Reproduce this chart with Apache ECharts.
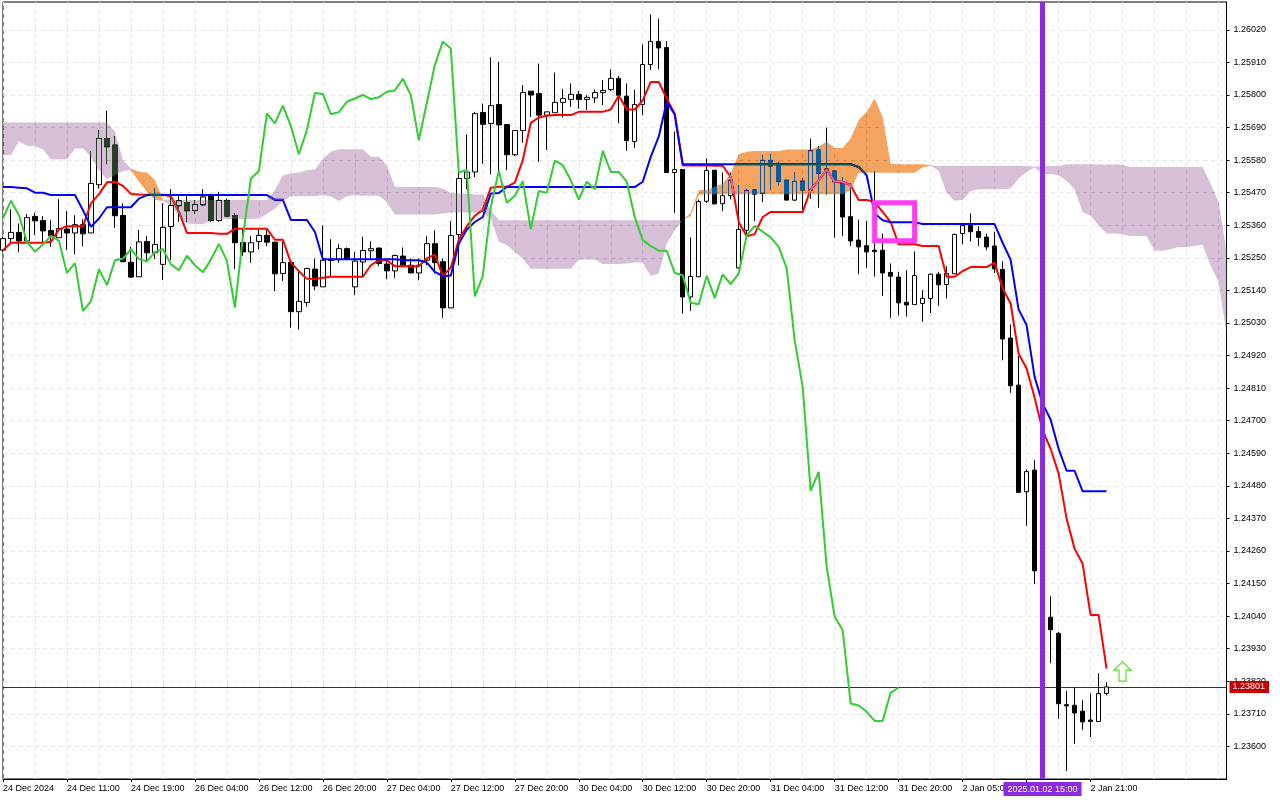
<!DOCTYPE html>
<html>
<head>
<meta charset="utf-8">
<style>html,body{margin:0;padding:0;background:#fff}#c{width:1280px;height:800px}</style>
<script src="https://cdn.jsdelivr.net/npm/echarts@6/dist/echarts.min.js"></script>
</head>
<body>
<div id="c"></div>
<script>
const opens=[1.25276,1.25315,1.25336,1.25307,1.25390,1.25376,1.25342,1.25318,1.25347,1.25334,
1.25362,1.25334,1.25497,1.25653,1.25631,1.25393,1.25235,1.25186,1.25305,1.25267,
1.25228,1.25356,1.25426,1.25437,1.25410,1.25429,1.25458,1.25376,1.25444,1.25393,
1.25302,1.25270,1.25305,1.25326,1.25303,1.25197,1.25234,1.25068,1.25099,1.25212,
1.25152,1.25243,1.25244,1.25281,1.25152,1.25236,1.25274,1.25283,1.25229,1.25206,
1.25256,1.25225,1.25199,1.25242,1.25298,1.25237,1.25081,1.25329,1.25518,1.25540,
1.25741,1.25704,1.25768,1.25700,1.25598,1.25680,1.25813,1.25805,1.25732,1.25740,
1.25775,1.25785,1.25802,1.25785,1.25790,1.25808,1.25818,1.25856,1.25796,1.25643,
1.25768,1.25903,1.25981,1.25960,1.25538,1.25548,1.25118,1.25186,1.25441,1.25546,
1.25433,1.25460,1.25216,1.25343,1.25479,1.25468,1.25579,1.25569,1.25512,1.25445,
1.25509,1.25479,1.25614,1.25550,1.25543,1.25501,1.25389,1.25310,1.25291,1.25276,
1.25276,1.25201,1.25185,1.25100,1.25092,1.25096,1.25113,1.25195,1.25160,1.25196,
1.25332,1.25360,1.25339,1.25320,1.25290,1.25211,1.24979,1.24820,1.24460,1.24533,
1.24193,1.24036,1.23982,1.23741,1.23739,1.23719,1.23689,1.23684,1.23779];
const closes=[1.25315,1.25336,1.25307,1.25386,1.25375,1.25341,1.25324,1.25349,1.25334,1.25362,
1.25331,1.25501,1.25653,1.25625,1.25392,1.25237,1.25185,1.25304,1.25267,1.25295,
1.25353,1.25427,1.25443,1.25409,1.25430,1.25456,1.25376,1.25444,1.25391,1.25301,
1.25270,1.25301,1.25326,1.25303,1.25196,1.25234,1.25068,1.25103,1.25214,1.25155,
1.25242,1.25241,1.25281,1.25248,1.25239,1.25275,1.25281,1.25231,1.25206,1.25258,
1.25225,1.25199,1.25225,1.25298,1.25234,1.25081,1.25325,1.25518,1.25540,1.25737,
1.25701,1.25764,1.25699,1.25598,1.25680,1.25808,1.25800,1.25732,1.25743,1.25775,
1.25788,1.25802,1.25785,1.25792,1.25808,1.25815,1.25856,1.25799,1.25646,1.25768,
1.25903,1.25981,1.25959,1.25538,1.25548,1.25118,1.25187,1.25440,1.25545,1.25432,
1.25460,1.25512,1.25346,1.25477,1.25465,1.25579,1.25560,1.25509,1.25445,1.25508,
1.25479,1.25612,1.25536,1.25547,1.25507,1.25388,1.25307,1.25287,1.25270,1.25271,
1.25199,1.25188,1.25098,1.25091,1.25190,1.25113,1.25195,1.25159,1.25197,1.25329,
1.25359,1.25338,1.25319,1.25287,1.25213,1.24976,1.24818,1.24458,1.24528,1.24193,
1.24036,1.23994,1.23744,1.23737,1.23713,1.23683,1.23684,1.23779,1.23801];
const lows=[1.25270,1.25298,1.25270,1.25304,1.25327,1.25304,1.25287,1.25318,1.25276,1.25262,
1.25289,1.25334,1.25484,1.25566,1.25351,1.25237,1.25182,1.25186,1.25242,1.25246,
1.25175,1.25242,1.25372,1.25372,1.25398,1.25426,1.25372,1.25372,1.25389,1.25212,
1.25257,1.25233,1.25279,1.25289,1.25137,1.25172,1.25014,1.25008,1.25085,1.25141,
1.25152,1.25186,1.25233,1.25248,1.25124,1.25186,1.25242,1.25222,1.25178,1.25182,
1.25225,1.25199,1.25174,1.25225,1.25197,1.25047,1.25081,1.25225,1.25482,1.25523,
1.25568,1.25532,1.25535,1.25546,1.25594,1.25638,1.25726,1.25574,1.25614,1.25740,
1.25724,1.25760,1.25754,1.25749,1.25773,1.25766,1.25813,1.25704,1.25611,1.25621,
1.25732,1.25884,1.25887,1.25538,1.25402,1.25062,1.25071,1.25186,1.25436,1.25432,
1.25408,1.25447,1.25214,1.25310,1.25374,1.25438,1.25479,1.25495,1.25445,1.25442,
1.25413,1.25449,1.25419,1.25464,1.25318,1.25323,1.25290,1.25195,1.25216,1.25186,
1.25122,1.25047,1.25056,1.25051,1.25092,1.25034,1.25064,1.25088,1.25113,1.25196,
1.25296,1.25306,1.25290,1.25276,1.25199,1.24904,1.24794,1.24456,1.24345,1.24148,
1.24020,1.23881,1.23693,1.23517,1.23609,1.23656,1.23632,1.23684,1.23772];
const highs=[1.25321,1.25414,1.25366,1.25398,1.25402,1.25391,1.25377,1.25448,1.25408,1.25394,
1.25380,1.25610,1.25681,1.25746,1.25661,1.25434,1.25287,1.25344,1.25324,1.25484,
1.25434,1.25482,1.25458,1.25458,1.25445,1.25482,1.25467,1.25473,1.25450,1.25400,
1.25349,1.25324,1.25349,1.25349,1.25304,1.25304,1.25234,1.25203,1.25217,1.25248,
1.25360,1.25313,1.25296,1.25285,1.25270,1.25321,1.25306,1.25285,1.25248,1.25261,
1.25285,1.25248,1.25248,1.25323,1.25343,1.25248,1.25374,1.25580,1.25667,1.25743,
1.25771,1.25927,1.25912,1.25700,1.25680,1.25833,1.25813,1.25906,1.25743,1.25876,
1.25820,1.25839,1.25813,1.25799,1.25818,1.25850,1.25886,1.25864,1.25839,1.25818,
1.25970,1.26072,1.26058,1.25982,1.25676,1.25548,1.25319,1.25447,1.25585,1.25546,
1.25538,1.25538,1.25495,1.25481,1.25481,1.25597,1.25600,1.25573,1.25512,1.25538,
1.25518,1.25653,1.25627,1.25690,1.25546,1.25521,1.25501,1.25379,1.25375,1.25543,
1.25332,1.25231,1.25203,1.25208,1.25272,1.25141,1.25197,1.25203,1.25222,1.25332,
1.25360,1.25400,1.25357,1.25332,1.25338,1.25239,1.25025,1.24918,1.24535,1.24567,
1.24200,1.24107,1.23987,1.23788,1.23799,1.23756,1.23779,1.23847,1.23817];
const tenkan=[1.25276,1.25301,1.25301,1.25301,1.25301,1.25301,1.25304,1.25346,1.25357,1.25357,
1.25357,1.25434,1.25465,1.25505,1.25507,1.25493,1.25466,1.25464,1.25463,1.25463,
1.25463,1.25458,1.25405,1.25334,1.25334,1.25334,1.25334,1.25331,1.25331,1.25348,
1.25348,1.25348,1.25348,1.25348,1.25311,1.25311,1.25234,1.25205,1.25179,1.25179,
1.25183,1.25186,1.25186,1.25186,1.25186,1.25186,1.25225,1.25242,1.25242,1.25222,
1.25222,1.25222,1.25222,1.25248,1.25261,1.25189,1.25217,1.25312,1.25357,1.25392,
1.25411,1.25487,1.25490,1.25490,1.25504,1.25580,1.25706,1.25724,1.25730,1.25732,
1.25732,1.25732,1.25743,1.25743,1.25743,1.25743,1.25751,1.25797,1.25751,1.25751,
1.25782,1.25844,1.25844,1.25788,1.25737,1.25562,1.25562,1.25562,1.25562,1.25561,
1.25561,1.25523,1.25371,1.25323,1.25330,1.25388,1.25405,1.25405,1.25405,1.25405,
1.25405,1.25481,1.25512,1.25548,1.25507,1.25507,1.25495,1.25445,1.25445,1.25439,
1.25405,1.25371,1.25296,1.25296,1.25296,1.25290,1.25290,1.25290,1.25186,1.25186,
1.25205,1.25219,1.25219,1.25219,1.25234,1.25147,1.25096,1.24927,1.24876,1.24778,
1.24668,1.24606,1.24522,1.24370,1.24268,1.24218,1.24044,1.24044,1.23863];
const kijun=[1.25489,1.25489,1.25487,1.25485,1.25470,1.25470,1.25462,1.25462,1.25462,1.25462,
1.25411,1.25355,1.25383,1.25421,1.25421,1.25421,1.25421,1.25450,1.25462,1.25462,
1.25462,1.25462,1.25462,1.25462,1.25462,1.25462,1.25462,1.25462,1.25462,1.25462,
1.25462,1.25462,1.25462,1.25462,1.25446,1.25446,1.25378,1.25378,1.25378,1.25338,
1.25245,1.25245,1.25245,1.25245,1.25245,1.25245,1.25245,1.25245,1.25245,1.25245,
1.25243,1.25242,1.25242,1.25234,1.25203,1.25188,1.25190,1.25298,1.25346,1.25371,
1.25388,1.25467,1.25469,1.25489,1.25489,1.25489,1.25489,1.25489,1.25489,1.25489,
1.25489,1.25489,1.25489,1.25489,1.25489,1.25489,1.25489,1.25489,1.25489,1.25489,
1.25507,1.25591,1.25659,1.25777,1.25734,1.25566,1.25566,1.25566,1.25566,1.25566,
1.25566,1.25566,1.25566,1.25566,1.25566,1.25566,1.25566,1.25566,1.25566,1.25566,
1.25566,1.25566,1.25566,1.25566,1.25566,1.25566,1.25566,1.25557,1.25529,1.25400,
1.25377,1.25370,1.25370,1.25370,1.25370,1.25364,1.25364,1.25364,1.25364,1.25364,
1.25364,1.25364,1.25364,1.25364,1.25364,1.25301,1.25244,1.25076,1.25023,1.24848,
1.24758,1.24704,1.24606,1.24531,1.24531,1.24462,1.24462,1.24462,1.24462];
const chikou=[1.25383,1.25443,1.25394,1.25304,1.25271,1.25295,1.25324,1.25307,1.25199,1.25232,
1.25070,1.25104,1.25212,1.25158,1.25242,1.25247,1.25279,1.25246,1.25238,1.25269,
1.25280,1.25228,1.25208,1.25257,1.25225,1.25201,1.25244,1.25297,1.25240,1.25082,
1.25321,1.25518,1.25543,1.25738,1.25704,1.25764,1.25695,1.25600,1.25681,1.25807,
1.25803,1.25735,1.25742,1.25777,1.25788,1.25800,1.25786,1.25792,1.25811,1.25815,
1.25855,1.25799,1.25647,1.25774,1.25901,1.25980,1.25957,1.25538,1.25547,1.25120,
1.25188,1.25422,1.25544,1.25436,1.25460,1.25509,1.25347,1.25476,1.25470,1.25578,
1.25563,1.25512,1.25447,1.25507,1.25482,1.25611,1.25540,1.25540,1.25507,1.25388,
1.25310,1.25290,1.25274,1.25274,1.25199,1.25191,1.25098,1.25093,1.25189,1.25115,
1.25194,1.25161,1.25197,1.25326,1.25358,1.25338,1.25319,1.25287,1.25215,1.24972,
1.24814,1.24463,1.24527,1.24207,1.24038,1.23993,1.23745,1.23738,1.23717,1.23686,
1.23686,1.23781,1.23799];
const cloudTop=[1.25707,1.25707,1.25707,1.25707,1.25707,1.25707,1.25707,1.25707,1.25707,1.25707,
1.25707,1.25707,1.25707,1.25707,1.25676,1.25580,1.25552,1.25541,1.25538,1.25512,
1.25447,1.25445,1.25445,1.25445,1.25445,1.25445,1.25445,1.25445,1.25445,1.25445,
1.25445,1.25445,1.25445,1.25445,1.25479,1.25529,1.25535,1.25538,1.25546,1.25548,
1.25585,1.25608,1.25617,1.25617,1.25617,1.25617,1.25591,1.25591,1.25563,1.25490,
1.25489,1.25489,1.25489,1.25489,1.25489,1.25484,1.25469,1.25467,1.25467,1.25464,
1.25464,1.25411,1.25377,1.25377,1.25377,1.25377,1.25377,1.25377,1.25377,1.25377,
1.25377,1.25377,1.25377,1.25377,1.25377,1.25377,1.25377,1.25377,1.25377,1.25377,
1.25377,1.25377,1.25377,1.25377,1.25377,1.25377,1.25402,1.25479,1.25479,1.25490,
1.25501,1.25535,1.25600,1.25608,1.25611,1.25611,1.25611,1.25611,1.25616,1.25616,
1.25616,1.25616,1.25627,1.25642,1.25621,1.25621,1.25653,1.25715,1.25743,1.25788,
1.25726,1.25568,1.25566,1.25566,1.25566,1.25566,1.25563,1.25560,1.25560,1.25560,
1.25560,1.25560,1.25560,1.25560,1.25560,1.25560,1.25560,1.25560,1.25560,1.25558,
1.25560,1.25560,1.25560,1.25566,1.25566,1.25566,1.25566,1.25565,1.25565,1.25565,
1.25564,1.25557,1.25557,1.25557,1.25557,1.25557,1.25557,1.25557,1.25557,1.25557,
1.25557,1.25501,1.25439,1.25276];
const cloudBottom=[1.25597,1.25597,1.25644,1.25628,1.25628,1.25616,1.25583,1.25583,1.25583,1.25619,
1.25619,1.25591,1.25546,1.25515,1.25529,1.25543,1.25546,1.25507,1.25473,1.25445,
1.25443,1.25428,1.25391,1.25366,1.25364,1.25364,1.25375,1.25381,1.25381,1.25381,
1.25381,1.25381,1.25383,1.25398,1.25417,1.25441,1.25458,1.25458,1.25458,1.25458,
1.25462,1.25456,1.25442,1.25458,1.25462,1.25460,1.25460,1.25460,1.25439,1.25396,
1.25396,1.25396,1.25396,1.25396,1.25396,1.25400,1.25403,1.25403,1.25403,1.25403,
1.25403,1.25383,1.25304,1.25293,1.25270,1.25248,1.25213,1.25213,1.25213,1.25213,
1.25213,1.25213,1.25244,1.25244,1.25244,1.25229,1.25229,1.25229,1.25231,1.25234,
1.25234,1.25189,1.25197,1.25298,1.25343,1.25377,1.25391,1.25462,1.25465,1.25465,
1.25465,1.25465,1.25465,1.25465,1.25465,1.25465,1.25465,1.25465,1.25465,1.25465,
1.25465,1.25465,1.25465,1.25465,1.25465,1.25465,1.25479,1.25537,1.25537,1.25537,
1.25537,1.25537,1.25537,1.25537,1.25537,1.25555,1.25561,1.25544,1.25470,1.25443,
1.25445,1.25476,1.25482,1.25482,1.25482,1.25482,1.25484,1.25518,1.25541,1.25555,
1.25533,1.25533,1.25529,1.25510,1.25482,1.25405,1.25392,1.25360,1.25332,1.25332,
1.25330,1.25324,1.25324,1.25324,1.25274,1.25274,1.25279,1.25287,1.25287,1.25289,
1.25295,1.25225,1.25169,1.24994];
const bullCloudRuns=[[16,20],[85,116]];
const bearCloudRuns=[[0,16],[20,85],[116,153]];
const axisLabels=["24 Dec 2024","24 Dec 11:00","24 Dec 19:00","26 Dec 04:00","26 Dec 12:00","26 Dec 20:00","27 Dec 04:00","27 Dec 12:00","27 Dec 20:00","30 Dec 04:00","30 Dec 12:00","30 Dec 20:00","31 Dec 04:00","31 Dec 12:00","31 Dec 20:00","2 Jan 05:00","2 Jan 13:00","2 Jan 21:00"];
const priceTicks=[1.26020,1.25910,1.25800,1.25690,1.25580,1.25470,1.25360,1.25250,1.25140,1.25030,1.24920,1.24810,1.24700,1.24590,1.24480,1.24370,1.24260,1.24150,1.24040,1.23930,1.23820,1.23710,1.23600];
const lastPrice=1.23801;
const markerBar=130, markerTime="2025.01.02 15:00";
const boxBars=[109,114], boxPrices=[1.25436,1.25308];
const arrowBar=140, arrowPrice=1.23853;

const barCount=cloudTop.length;
const categories=cloudTop.map((_,i)=>i%8===0&&axisLabels[i/8]?axisLabels[i/8]:String(i));
const font='"Liberation Sans",Arial,sans-serif';
const gridLine={show:true,lineStyle:{color:'#e3e3e3',width:1,type:[4,4]}};

const chart=echarts.init(document.getElementById('c'),null,{renderer:'canvas'});
function cloudItem(fill){
  return function(params,api){
    const from=api.value(0),to=api.value(1),pts=[];
    for(let j=from;j<=to;j++)pts.push(api.coord([j,cloudTop[j]]));
    for(let j=to;j>=from;j--)pts.push(api.coord([j,cloudBottom[j]]));
    return {type:'polygon',shape:{points:pts},style:{fill:fill,stroke:null}};
  };
}
chart.setOption({
  animation:false,
  backgroundColor:'#ffffff',
  textStyle:{fontFamily:font},
  grid:{left:2.5,top:2,width:1224,height:777,show:true,borderColor:'#000',borderWidth:1,backgroundColor:'#fff',containLabel:false},
  xAxis:{type:'category',data:categories,boundaryGap:false,
    axisLine:{show:true,lineStyle:{color:'#000',width:1}},
    axisTick:{show:true,length:3,interval:(i)=>i%8===0&&i<=136,lineStyle:{color:'#000'}},
    axisLabel:{interval:(i)=>i%8===0&&i<=136,align:'left',color:'#000',fontSize:9,fontFamily:font,margin:5,hideOverlap:false},
    splitLine:Object.assign({interval:3},gridLine)},
  yAxis:{type:'value',position:'right',min:1.2349,max:1.26114,scale:true,
    axisLine:{show:true,onZero:false,lineStyle:{color:'#000',width:1}},
    axisTick:{show:true,length:3,lineStyle:{color:'#000'},customValues:priceTicks},
    axisLabel:{color:'#000',fontSize:9,fontFamily:font,margin:7,customValues:priceTicks,formatter:(v)=>v.toFixed(5)},
    splitLine:gridLine},
  series:[
    {name:'Price',type:'candlestick',z:2,barWidth:5,
      data:opens.map((o,i)=>[o,closes[i],lows[i],highs[i]]),
      itemStyle:{color:'#ffffff',color0:'#000000',borderColor:'#000000',borderColor0:'#000000',borderWidth:1}},
    {name:'Tenkan',type:'line',z:3,data:tenkan,showSymbol:false,symbol:'none',lineStyle:{color:'#ff0000',width:2}},
    {name:'Kijun',type:'line',z:3,data:kijun,showSymbol:false,symbol:'none',lineStyle:{color:'#0000ff',width:2}},
    {name:'Cloud bear',type:'custom',z:4,blendMode:'difference',silent:true,data:bearCloudRuns,renderItem:cloudItem('#274027'),encode:{x:0,y:1}},
    {name:'Cloud bull',type:'custom',z:4,blendMode:'difference',silent:true,data:bullCloudRuns,renderItem:cloudItem('#0B5B9F'),encode:{x:0,y:1}},
    {name:'Chikou',type:'line',z:5,data:chikou,showSymbol:false,symbol:'none',lineStyle:{color:'#32cd32',width:2}},
    {name:'Price line',type:'line',z:1,data:[],
      markLine:{silent:true,symbol:'none',animation:false,z:1,precision:5,
        data:[{yAxis:lastPrice}],
        lineStyle:{color:'#a80000',width:1,type:'solid'},
        label:{show:true,position:'end',distance:3,formatter:()=>lastPrice.toFixed(5),color:'#fff',backgroundColor:'#c80000',fontSize:9,fontFamily:font,padding:[2,4,1,3]}}},
    {name:'Marker',type:'line',z:6,data:[],
      markLine:{silent:true,symbol:'none',animation:false,z:6,
        data:[{xAxis:markerBar}],
        lineStyle:{color:'#8a2be2',width:5,type:'solid'},
        label:{show:true,position:'start',distance:3,formatter:()=>markerTime,color:'#fff',backgroundColor:'#8a2be2',fontSize:9,fontFamily:font,padding:[3,4,2,4]}},
      markArea:{silent:true,animation:false,z:7,
        itemStyle:{color:'rgba(0,0,0,0)',borderColor:'#ff3cf0',borderWidth:5},
        label:{show:false},
        data:[[{xAxis:boxBars[0],yAxis:boxPrices[0]},{xAxis:boxBars[1],yAxis:boxPrices[1]}]]}},
    {name:'Signal',type:'scatter',z:8,silent:true,
      data:[[arrowBar,arrowPrice]],
      symbol:'path://M8.5 0 L17 8 L12 8 L12 19 L5 19 L5 8 L0 8 Z',symbolSize:[17,19],
      itemStyle:{color:'#ffffff',borderColor:'#50e020',borderWidth:1.2,opacity:1}}
  ]
});
</script>
</body>
</html>
